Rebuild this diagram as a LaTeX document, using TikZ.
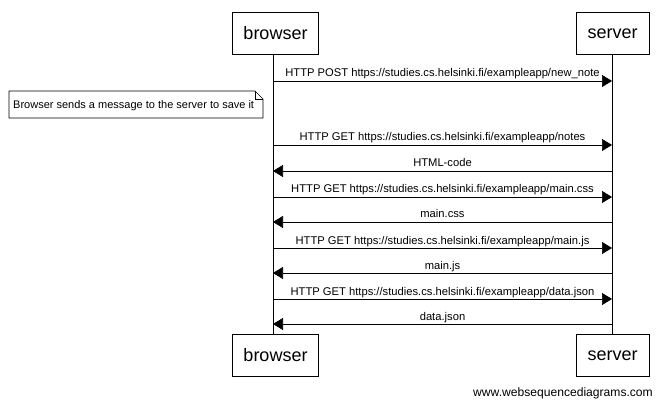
\documentclass[tikz,border=0pt]{standalone}
\usepackage{fontspec}
\setmainfont{Liberation Sans}
\usetikzlibrary{arrows.meta}
\begin{document}
\begin{tikzpicture}[x=1pt,y=-1pt,
  actor/.style={draw, line width=0.8pt, minimum width=86pt, minimum height=42pt, inner sep=0pt, font=\fontsize{18}{20}\selectfont},
  msg/.style={line width=0.6pt, -{Triangle[length=10pt,width=12pt]}},
  lbl/.style={font=\fontsize{11.2}{13}\selectfont, inner sep=1pt, anchor=base},
  life/.style={line width=0.6pt}]
\useasboundingbox (0,0) rectangle (661,406);
\node[actor] (bt) at (275.5,33.5) {browser};
\node[actor, minimum width=73pt] (st) at (612.5,33.5) {server};
\node[actor] (bb) at (275.5,355.5) {browser};
\node[actor, minimum width=73pt] (sb) at (612.5,355.5) {server};
\coordinate (bl) at (273,0);
\coordinate (sl) at (612,0);
\draw[life] (bt.south -| bl) -- (bb.north -| bl);
\draw[life] (st.south -| sl) -- (sb.north -| sl);
% messages
\foreach \y/\t [count=\i] in {81/{HTTP POST https://studies.cs.helsinki.fi/exampleapp/new\_note},
  145/{HTTP GET https://studies.cs.helsinki.fi/exampleapp/notes},
  197/{HTTP GET https://studies.cs.helsinki.fi/exampleapp/main.css},
  248/{HTTP GET https://studies.cs.helsinki.fi/exampleapp/main.js},
  299/{HTTP GET https://studies.cs.helsinki.fi/exampleapp/data.json}}{
  \coordinate (a\i) at (273,\y);
  \coordinate (b\i) at (612,\y);
  \draw[msg] (a\i) -- (b\i) node[lbl, pos=0.5, yshift=4pt] {\t};
}
\foreach \y/\t [count=\i] in {171/HTML-code, 222/main.css, 273/main.js, 324/data.json}{
  \coordinate (c\i) at (612,\y);
  \coordinate (d\i) at (273,\y);
  \draw[msg] (c\i) -- (d\i) node[lbl, pos=0.5, yshift=4pt] {\t};
}
% note
\draw[line width=0.6pt] (9,91) -- (255,91) -- (263,99) -- (263,118) -- (9,118) -- cycle;
\draw[line width=0.6pt] (255,91) -- (255,99) -- (263,99);
\node[font=\fontsize{11}{13}\selectfont, anchor=west, inner sep=0pt] (note) at (13,105.5) {Browser sends a message to the server to save it};
\node[font=\fontsize{12.1}{14}\selectfont, anchor=east, inner sep=0pt] (wsd) at (653,393) {www.websequencediagrams.com};
\end{tikzpicture}
\end{document}
